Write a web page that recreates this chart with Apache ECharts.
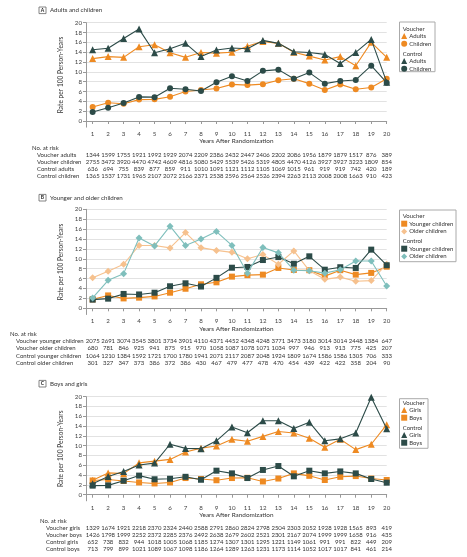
<!DOCTYPE html>
<html><head><meta charset="utf-8">
<script src="https://cdn.jsdelivr.net/npm/echarts@6/dist/echarts.min.js"></script>
<style>html,body{margin:0;padding:0;background:#fff}#c{width:467px;height:557px}</style>
</head><body><div id="c"></div>
<script>
// ---------- DATA ----------
const years = [1,2,3,4,5,6,7,8,9,10,11,12,13,14,15,16,17,18,19,20];
const yTicks = [0,2,4,6,8,10,12,14,16,18,20];

// Panel A: Adults and children
const aVoucherAdults   = [12.7,13.1,12.95,15.1,15.5,13.9,12.95,13.95,13.8,14.0,15.2,16.2,15.8,14.0,13.2,12.4,13.1,11.25,16.0,12.95];
const aVoucherChildren = [2.85,3.7,3.5,4.35,4.4,4.95,6.0,6.3,6.6,7.45,7.3,7.5,8.3,8.6,7.6,6.3,7.45,6.45,6.8,8.6];
const aControlAdults   = [14.5,14.8,16.8,18.7,13.9,14.7,15.8,13.1,14.45,14.85,14.7,16.4,15.8,14.1,13.95,13.55,11.7,13.95,16.6,7.9];
const aControlChildren = [1.85,2.7,3.65,4.9,4.85,6.65,6.45,6.1,7.9,9.1,8.15,10.2,10.45,8.6,9.85,7.6,8.15,8.35,11.25,7.8];

// Panel B: Younger and older children
const bVoucherYounger = [1.8,2.6,2.0,2.15,2.4,3.15,3.95,4.85,5.25,6.4,6.7,6.8,8.15,7.75,7.7,6.5,7.7,6.8,7.15,8.4];
const bVoucherOlder   = [6.15,7.5,8.9,12.7,12.7,12.2,15.3,12.25,11.7,11.3,10.0,10.85,8.9,11.6,7.6,5.85,6.3,5.45,5.6,8.9];
const bControlYounger = [1.75,1.95,2.9,2.8,3.15,4.45,5.05,4.4,6.15,8.2,8.35,9.75,10.35,9.0,10.5,7.8,8.3,8.15,11.85,8.7];
const bControlOlder   = [2.1,5.65,7.0,14.2,12.6,16.6,12.7,14.0,15.5,12.7,7.1,12.3,11.2,7.7,7.6,7.1,7.8,9.55,9.55,4.5];

// Panel C: Boys and girls
const cVoucherGirls = [2.95,4.45,4.3,6.5,6.85,7.2,8.7,9.5,9.95,11.3,10.9,11.9,12.9,12.6,11.5,9.7,11.3,9.2,10.3,14.3];
const cVoucherBoys  = [2.9,3.1,2.8,2.5,2.3,2.5,3.4,3.2,2.95,3.4,3.45,2.7,3.3,4.35,3.85,3.0,3.65,3.8,3.3,3.0];
const cControlGirls = [2.25,3.7,4.75,6.05,6.45,10.3,9.45,9.4,11.0,13.8,12.65,15.1,15.1,13.5,14.8,11.0,11.4,12.6,19.9,13.45];
const cControlBoys  = [1.85,1.9,2.85,3.9,3.15,3.25,3.65,3.05,4.9,4.35,3.4,5.05,5.85,3.75,4.9,4.35,4.75,4.35,3.2,2.45];

// Number at risk tables
const aRiskLabels = ["Voucher adults","Voucher children","Control adults","Control children"];
const aRiskVoucherAdults   = [1344,1599,1755,1921,1992,1929,2074,2209,2386,2432,2447,2406,2202,2086,1956,1879,1879,1517,876,389];
const aRiskVoucherChildren = [2755,3472,3920,4470,4742,4609,4816,5080,5429,5539,5426,5319,4805,4470,4126,3927,3927,3223,1809,854];
const aRiskControlAdults   = [636,694,755,839,877,859,911,1010,1091,1121,1112,1105,1069,1015,961,919,919,742,420,189];
const aRiskControlChildren = [1365,1537,1731,1965,2107,2072,2166,2371,2538,2596,2564,2526,2394,2263,2113,2008,2008,1663,910,423];

const bRiskLabels = ["Voucher younger children","Voucher older children","Control younger children","Control older children"];
const bRiskVoucherYounger = [2075,2691,3074,3545,3801,3734,3901,4110,4371,4452,4348,4248,3771,3473,3180,3014,3014,2448,1384,647];
const bRiskVoucherOlder   = [680,781,846,925,941,875,915,970,1058,1087,1078,1071,1034,997,946,913,913,775,425,207];
const bRiskControlYounger = [1064,1210,1384,1592,1721,1700,1780,1941,2071,2117,2087,2048,1924,1809,1674,1586,1586,1305,706,333];
const bRiskControlOlder   = [301,327,347,373,386,372,386,430,467,479,477,478,470,454,439,422,422,358,204,90];

const cRiskLabels = ["Voucher girls","Voucher boys","Control girls","Control boys"];
const cRiskVoucherGirls = [1329,1674,1921,2218,2370,2324,2440,2588,2791,2860,2824,2798,2504,2303,2052,1928,1928,1565,893,419];
const cRiskVoucherBoys  = [1426,1798,1999,2252,2372,2285,2376,2492,2638,2679,2602,2521,2301,2167,2074,1999,1999,1658,916,435];
const cRiskControlGirls = [652,738,832,944,1018,1005,1068,1185,1274,1307,1301,1295,1221,1149,1061,991,991,822,449,209];
const cRiskControlBoys  = [713,799,899,1021,1089,1067,1098,1186,1264,1289,1263,1231,1173,1114,1052,1017,1017,841,461,214];

// ---------- STYLE / LAYOUT ----------
const FONT = 'Lato, "Open Sans", sans-serif';
const ORANGE = '#EE8A22', DARK = '#2C4B48', LORANGE = '#F6C18E', TEAL = '#7FBFBC';
const TXT = '#333';
const FS = 6;      // small text
const FS_AX = 6.2; // axis labels

const panels = [
  { letter:'A', title:'Adults and children', titleY:10.3, top:22.7, unit:4.915,
    legendBox:[399.5,22,35.5,49.7], vHead:29, cHead:53.7, vRow:36, cRow:61,
    series:[
      {g:'V', name:'Adults', data:aVoucherAdults, color:ORANGE, symbol:'triangle', size:7},
      {g:'V', name:'Children', data:aVoucherChildren, color:ORANGE, symbol:'circle', size:6},
      {g:'C', name:'Adults', data:aControlAdults, color:DARK, symbol:'triangle', size:7},
      {g:'C', name:'Children', data:aControlChildren, color:DARK, symbol:'circle', size:6}],
    riskHeadX:32, riskHeadY:147.7, riskLabelX:37, riskRowY:[155,162.3,169.3,176.3],
    riskLabels:aRiskLabels, risk:[aRiskVoucherAdults,aRiskVoucherChildren,aRiskControlAdults,aRiskControlChildren] },
  { letter:'B', title:'Younger and older children', titleY:197.7, top:209.3, unit:4.95,
    legendBox:[399.5,210,56.5,51.7], vHead:216.3, cHead:241, vRow:223.7, cRow:248.7,
    series:[
      {g:'V', name:'Younger children', data:bVoucherYounger, color:ORANGE, symbol:'rect', size:6},
      {g:'V', name:'Older children', data:bVoucherOlder, color:LORANGE, symbol:'diamond', size:7},
      {g:'C', name:'Younger children', data:bControlYounger, color:DARK, symbol:'rect', size:6},
      {g:'C', name:'Older children', data:bControlOlder, color:TEAL, symbol:'diamond', size:7}],
    riskHeadX:10, riskHeadY:334, riskLabelX:16, riskRowY:[341,348.3,355.7,363],
    riskLabels:bRiskLabels, risk:[bRiskVoucherYounger,bRiskVoucherOlder,bRiskControlYounger,bRiskControlOlder] },
  { letter:'C', title:'Boys and girls', titleY:383.7, top:396.7, unit:4.9,
    legendBox:[399.5,398.7,28.5,49.6], vHead:402.7, cHead:427.7, vRow:410, cRow:435,
    series:[
      {g:'V', name:'Girls', data:cVoucherGirls, color:ORANGE, symbol:'triangle', size:7},
      {g:'V', name:'Boys', data:cVoucherBoys, color:ORANGE, symbol:'rect', size:6},
      {g:'C', name:'Girls', data:cControlGirls, color:DARK, symbol:'triangle', size:7},
      {g:'C', name:'Boys', data:cControlBoys, color:DARK, symbol:'rect', size:6}],
    riskHeadX:40, riskHeadY:520.7, riskLabelX:46, riskRowY:[527.7,535,542,549.3],
    riskLabels:cRiskLabels, risk:[cRiskVoucherGirls,cRiskVoucherBoys,cRiskControlGirls,cRiskControlBoys] }
];

const Y_MIN = -1.25, Y_MAX = 20, X_MIN = 0.57, X_MAX = 20;
const GRID_LEFT = 86, GRID_W = 300.7;

const grid = [], xAxis = [], yAxis = [], series = [], legend = [], graphic = [];
const txt = (x, y, text, extra) => Object.assign({ type:'text', x, y,
  style: Object.assign({ text, fontSize:FS, fontFamily:FONT, fill:TXT, textVerticalAlign:'middle' }, extra || {}) });

panels.forEach((p, i) => {
  grid.push({ left: GRID_LEFT, top: p.top, width: GRID_W, height: p.unit * (Y_MAX - Y_MIN), containLabel:false });
  xAxis.push({
    type:'value', gridIndex:i, min:X_MIN, max:X_MAX,
    name:'Years After Randomization', nameLocation:'middle', nameGap:11,
    nameTextStyle:{ fontFamily:FONT, fontSize:6.4, color:TXT },
    axisLine:{ show:true, lineStyle:{ color:'#999', width:1 } },
    axisTick:{ show:true, length:3, lineStyle:{ color:'#999' }, customValues: years },
    axisLabel:{ fontFamily:FONT, fontSize:FS_AX, color:'#444', margin:4, customValues: years },
    splitLine:{ show:false }
  });
  yAxis.push({
    type:'value', gridIndex:i, min:Y_MIN, max:Y_MAX,
    name:'Rate per 100 Person-Years', nameLocation:'middle', nameGap:12,
    nameTextStyle:{ fontFamily:FONT, fontSize:6.6, color:TXT },
    axisLine:{ show:true, lineStyle:{ color:'#999', width:1 } },
    axisTick:{ show:true, length:3, lineStyle:{ color:'#999' }, customValues: yTicks },
    axisLabel:{ fontFamily:FONT, fontSize:FS_AX, color:'#444', margin:4, customValues: yTicks },
    splitLine:{ show:true, lineStyle:{ color:'#e2e2e2', width:1 } }
  });
  const vNames = [], cNames = [];
  p.series.forEach((s, k) => {
    const nm = p.letter + '|' + s.g + '|' + s.name;
    (s.g === 'V' ? vNames : cNames).push({ name:nm, icon:s.symbol });
    series.push({
      type:'line', name:nm, xAxisIndex:i, yAxisIndex:i,
      data: years.map((y, j) => [y, s.data[j]]),
      symbol:s.symbol, symbolSize:s.size, showSymbol:true,
      lineStyle:{ color:s.color, width:1.1 }, itemStyle:{ color:s.color },
      z: 2 + k, animation:false
    });
  });
  const mkLegend = (data, top) => ({
    orient:'vertical', left:401.2, top: top - 3.85, padding:0, itemGap:0,
    itemWidth:6, itemHeight:6, selectedMode:false, data,
    formatter: n => n.split('|')[2],
    textStyle:{ fontFamily:FONT, fontSize:FS, color:TXT, lineHeight:7.7, padding:[0,0,0,-3] }
  });
  legend.push(mkLegend(vNames, p.vRow));
  legend.push(mkLegend(cNames, p.cRow));

  const b = p.legendBox;
  graphic.push({ type:'rect', shape:{ x:b[0], y:b[1], width:b[2], height:b[3] }, style:{ fill:'none', stroke:'#aaa', lineWidth:1 }, z:0 });
  graphic.push(txt(402.7, p.vHead, 'Voucher'));
  graphic.push(txt(402.7, p.cHead, 'Control'));
  // Panel title
  graphic.push({ type:'rect', shape:{ x:39, y:p.titleY - 3.3, width:7, height:6.6 }, style:{ fill:'#fff', stroke:'#666', lineWidth:0.8 } });
  graphic.push(txt(42.5, p.titleY, p.letter, { fontSize:5, fontWeight:'bold', fill:'#222', textAlign:'center' }));
  graphic.push(txt(50, p.titleY, p.title, { fontSize:6.2 }));
  // Number at risk labels
  graphic.push(txt(p.riskHeadX, p.riskHeadY, 'No. at risk'));
  p.riskLabels.forEach((lab, r) => graphic.push(txt(p.riskLabelX, p.riskRowY[r], lab)));
});

const chart = echarts.init(document.getElementById('c'), null, { renderer:'canvas' });
chart.setOption({ backgroundColor:'#fff', animation:false, textStyle:{ fontFamily:FONT }, grid, xAxis, yAxis, series, legend, graphic });

// numbers at risk placed through the x scale of each panel
const graphic2 = graphic.slice();
panels.forEach((p, i) => {
  p.risk.forEach((row, r) => {
    row.forEach((v, j) => {
      const px = chart.convertToPixel({ xAxisIndex:i }, years[j]);
      graphic2.push(txt(px, p.riskRowY[r], String(v), { textAlign:'center' }));
    });
  });
});
chart.setOption({ graphic: graphic2 });
</script>
</body></html>
